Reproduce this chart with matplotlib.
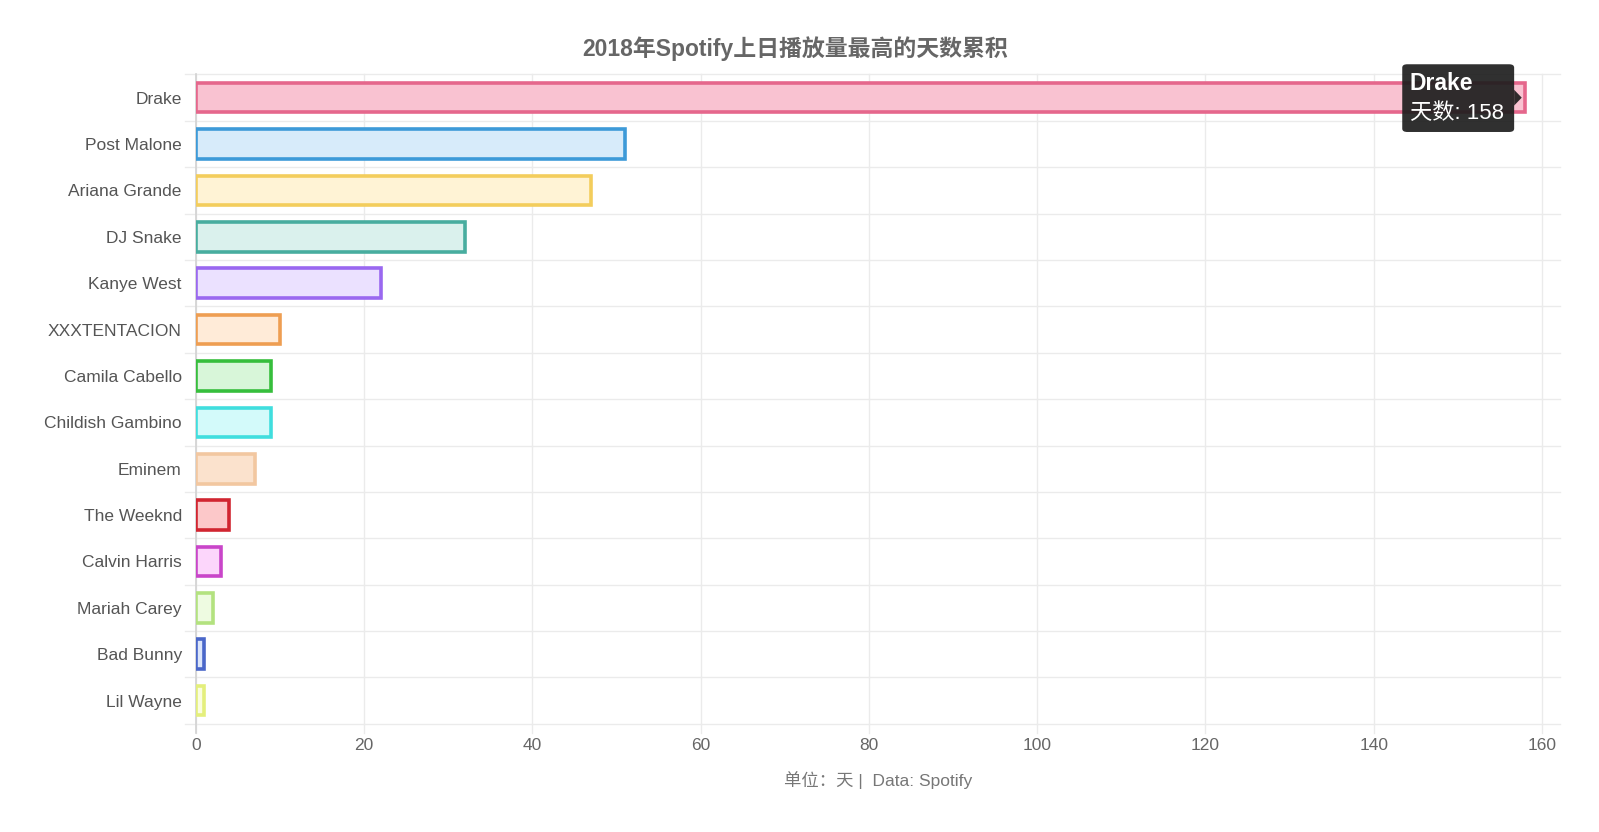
import matplotlib
matplotlib.use("Agg")
import matplotlib.pyplot as plt
from matplotlib.patches import FancyBboxPatch, Polygon

plt.rcParams['font.family'] = ['Liberation Sans', 'Noto Sans CJK SC', 'DejaVu Sans']

# 数据
artists = ['Drake', 'Post Malone', 'Ariana Grande', 'DJ Snake', 'Kanye West',
           'XXXTENTACION', 'Camila Cabello', 'Childish Gambino', 'Eminem',
           'The Weeknd', 'Calvin Harris', 'Mariah Carey', 'Bad Bunny', 'Lil Wayne']
days = [158, 51, 47, 32, 22, 10, 9, 9, 7, 4, 3, 2, 1, 1]
edge_colors = ['#e5678c', '#3d9ad8', '#f3cd5c', '#48ad9f', '#9a68f0',
               '#ee9e52', '#36be3c', '#40dede', '#f2c7a0', '#d12530',
               '#c945c9', '#b3e27f', '#4a67c9', '#e4ef7c']
fill_colors = ['#f9c2d1', '#d7ebfa', '#fff3d5', '#daf1ed', '#ebe1ff',
               '#ffebd8', '#d8f6d9', '#d3fafa', '#fbe2cd', '#fcc8c9',
               '#fcd6fb', '#eefbe1', '#dce6fb', '#fafde0']
xticks = [0, 20, 40, 60, 80, 100, 120, 140, 160]

title = '2018年Spotify上日播放量最高的天数累积'
footnote = '单位：天 |  Data: Spotify'

fig = plt.figure(figsize=(15.99, 8.32), dpi=100)
ax = fig.add_axes([0.1224, 0.130, 0.8419, 0.7805])

ypos = list(range(len(artists)))
ax.barh(ypos, days, height=0.64, color=fill_colors, edgecolor=edge_colors,
        linewidth=2.6, zorder=3)

ax.set_xlim(0, 160)
ax.set_ylim(len(artists) - 0.5, -0.5)

# 网格线
for b in range(len(artists) + 1):
    ax.plot([-1.3, 162.2], [b - 0.5, b - 0.5], color='#ebebeb', lw=1.0,
            clip_on=False, zorder=1)
for t in xticks:
    ax.plot([t, t], [-0.5, len(artists) - 0.3], color='#ebebeb', lw=1.0,
            clip_on=False, zorder=1)
ax.plot([0, 0], [-0.5, len(artists) - 0.3], color='#d2d2d2', lw=1.2,
        clip_on=False, zorder=2)

for s in ax.spines.values():
    s.set_visible(False)
ax.tick_params(length=0)
ax.set_yticks(ypos)
ax.set_yticklabels(artists, fontsize=12.5, color='#555555')
ax.tick_params(axis='y', pad=10)
ax.set_xticks(xticks)
ax.set_xticklabels([str(t) for t in xticks], fontsize=12.5, color='#666666')
ax.tick_params(axis='x', pad=10)

fig.text(0.497, 0.942, title, ha='center', va='center', fontsize=16.5,
         fontweight='bold', color='#666666')
fig.text(0.549, 0.062, footnote, ha='center', va='center', fontsize=12.5,
         color='#777777')

# tooltip
box = FancyBboxPatch((143.4, -0.72), 13.3, 1.46,
                     boxstyle='round,pad=0,rounding_size=0.6',
                     transform=ax.transData, facecolor='#1e1e1e', alpha=0.92,
                     edgecolor='none', clip_on=False, zorder=6,
                     mutation_aspect=0.12)
ax.add_patch(box)
ax.add_patch(Polygon([[156.7, -0.17], [157.6, 0.0], [156.7, 0.17]],
                     closed=True, facecolor='#1e1e1e', alpha=0.92,
                     edgecolor='none', clip_on=False, zorder=6))
ax.text(144.3, -0.31, artists[0], fontsize=16.5, fontweight='bold', color='white',
        va='center', ha='left', zorder=7)
ax.text(144.3, 0.34, '天数: ' + str(days[0]), fontsize=16, color='white',
        va='center', ha='left', zorder=7)

fig.savefig('out.png', dpi=100, facecolor='white')
